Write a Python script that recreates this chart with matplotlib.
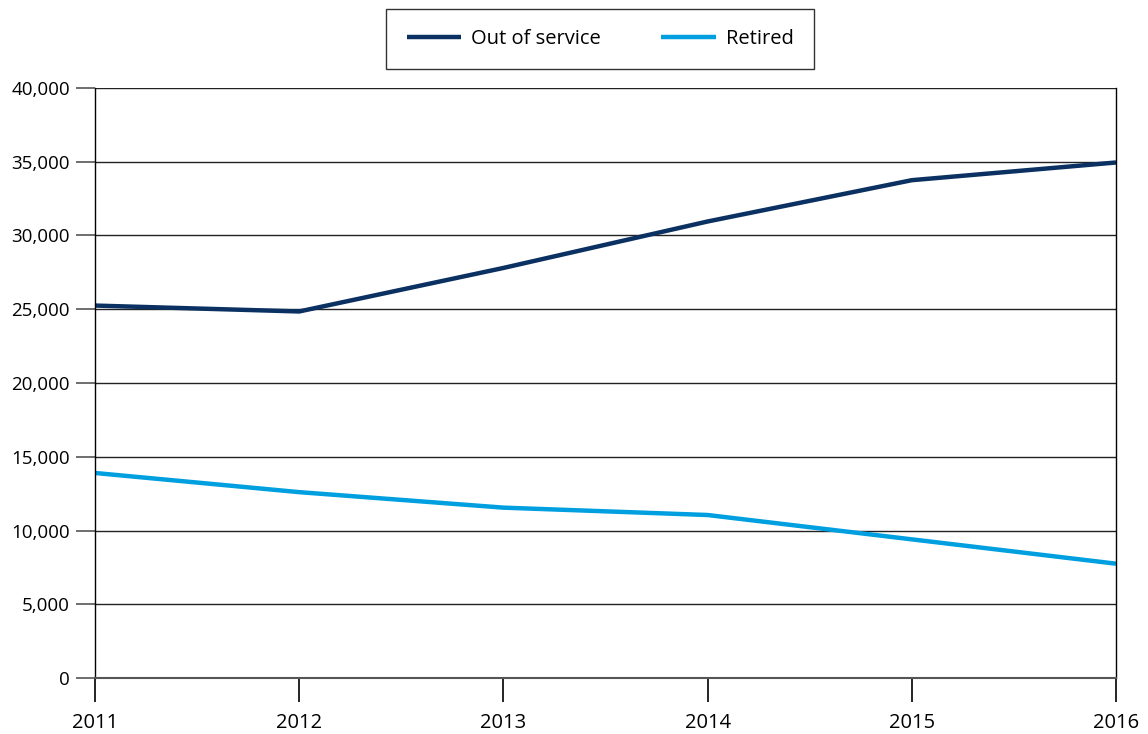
import matplotlib.pyplot as plt
from matplotlib.ticker import FuncFormatter

plt.rcParams['font.family'] = ['Open Sans', 'DejaVu Sans']

# Data
years = [2011, 2012, 2013, 2014, 2015, 2016]
out_of_service = [25250, 24850, 27800, 30950, 33750, 34950]
retired = [13900, 12600, 11550, 11050, 9400, 7750]

fig = plt.figure(figsize=(11.48, 7.34), dpi=100)
ax = fig.add_axes([95 / 1148, 1 - 678 / 734, (1116 - 95) / 1148, (678 - 88) / 734])

ax.plot(years, out_of_service, color='#0b3162', lw=3.2, label='Out of service', solid_capstyle='butt')
ax.plot(years, retired, color='#009fe0', lw=3.2, label='Retired', solid_capstyle='butt')

ax.set_xlim(2011, 2016)
ax.set_ylim(0, 40000)
ax.set_yticks(range(0, 40001, 5000))
ax.set_xticks(years)
ax.yaxis.set_major_formatter(FuncFormatter(lambda v, p: f'{int(v):,}'))

ax.grid(axis='y', color='#222222', lw=1)
ax.set_axisbelow(True)
for s in ['left', 'right', 'bottom']:
    ax.spines[s].set_color('black')
    ax.spines[s].set_linewidth(1)
ax.spines['top'].set_visible(False)
ax.spines['bottom'].set_color('#555555')
ax.spines['bottom'].set_linewidth(1.5)

ax.tick_params(axis='y', length=14, width=1.2, color='#555555', labelsize=13.5, pad=4)
ax.tick_params(axis='x', length=17, width=1.2, color='black', labelsize=14.5, pad=8)

leg = fig.legend(loc='center', bbox_to_anchor=(600 / 1148, 1 - 39 / 734), ncol=2,
                 fontsize=14.5, frameon=True, fancybox=False, edgecolor='black',
                 handlelength=2.7, columnspacing=3.0, borderpad=1.0, borderaxespad=0,
                 handletextpad=0.5)
leg.get_frame().set_linewidth(1)

fig.savefig('out.png', dpi=100)
